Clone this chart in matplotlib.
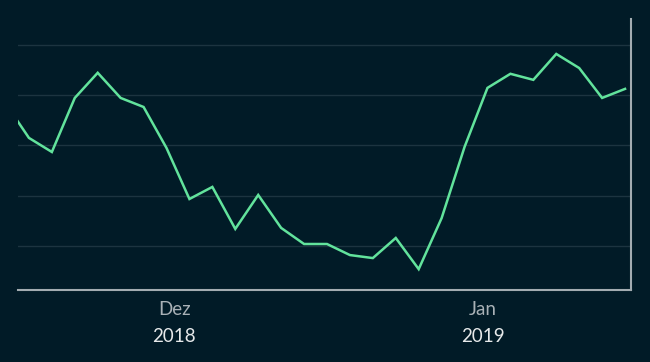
import matplotlib
matplotlib.use("Agg")
import matplotlib.pyplot as plt
from matplotlib.transforms import blended_transform_factory

# data (weekly-ish index, arbitrary units)
x_index = list(range(28))
values = [76.5, 63.0, 57.4, 78.9, 88.9, 78.9, 75.3, 59.0, 38.7, 43.5,
          26.8, 40.3, 27.2, 20.8, 20.8, 16.4, 15.2, 23.2, 10.8, 31.1,
          59.4, 82.9, 88.5, 86.1, 96.4, 90.8, 78.9, 82.5]
month_pos = [7.33, 20.8]
month_labels = ["Dez", "Jan"]
year_labels = ["2018", "2019"]
grid_vals = [20, 40, 60, 80, 100]

bg = "#011b27"
fig = plt.figure(figsize=(6.5, 3.62), dpi=100, facecolor=bg)
ax = fig.add_axes([18/650, 1-290/362, (631-18)/650, (290-19)/362])
ax.set_facecolor(bg)

ax.plot(x_index, values, color="#62e39c", lw=1.8, solid_joinstyle="miter", zorder=3)
for g in grid_vals:
    ax.axhline(g, color="#1c3440", lw=1.0, zorder=1)

ax.set_xlim(0.523, 27.26)
ax.set_ylim(2.5, 110.3)

for s in ["top", "left"]:
    ax.spines[s].set_visible(False)
for s in ["bottom", "right"]:
    ax.spines[s].set_color("#a3acb1")
    ax.spines[s].set_linewidth(1.5)

ax.set_yticks([])
ax.set_xticks(month_pos)
ax.set_xticklabels(month_labels, family="Lato", fontweight="normal", fontsize=13.5, color="#a9b1b6")
ax.tick_params(axis="x", length=0, pad=8)

tr = blended_transform_factory(ax.transData, fig.transFigure)
for p, yl in zip(month_pos, year_labels):
    ax.text(p, 1-337/362, yl, transform=tr, ha="center", va="center",
            family="Lato", fontsize=13.5, color="#e6e9ea")

fig.savefig("out.png", dpi=100, facecolor=bg)
